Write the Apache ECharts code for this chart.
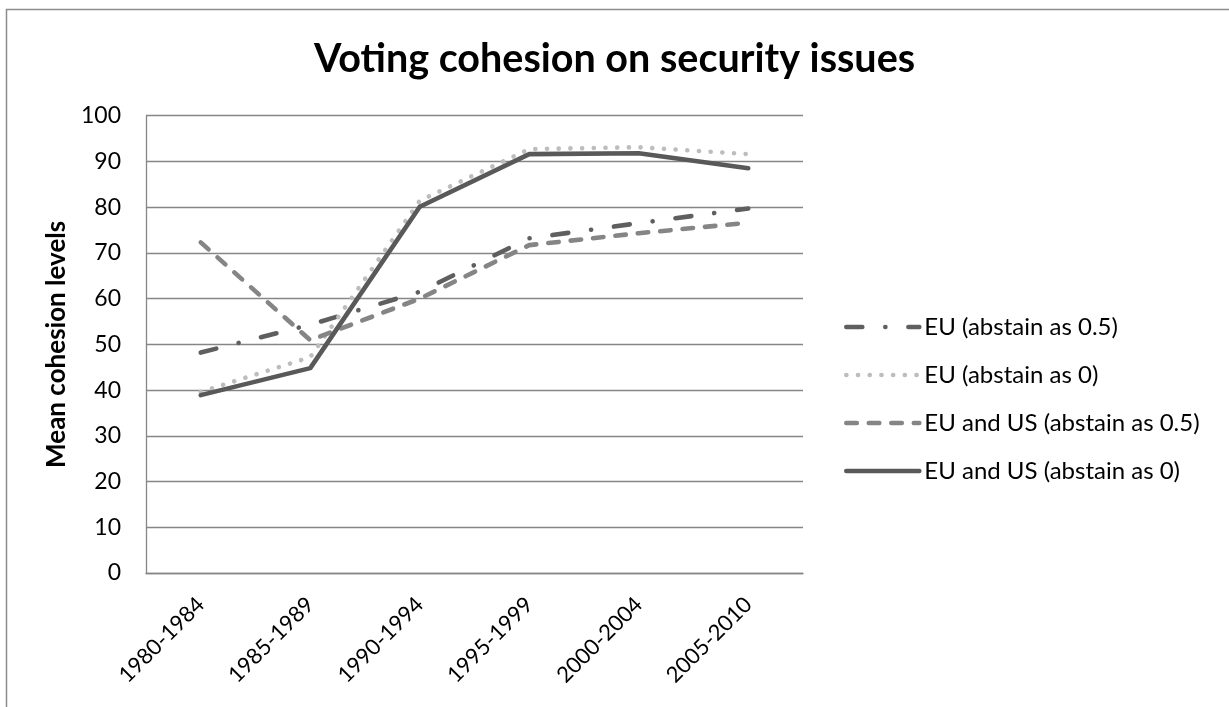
<!DOCTYPE html>
<html>
<head>
<meta charset="utf-8">
<script src="https://cdn.jsdelivr.net/npm/echarts@6/dist/echarts.min.js"></script>
<style>
  html, body { margin: 0; padding: 0; background: #ffffff; }
  #chart { width: 1229px; height: 707px; }
</style>
</head>
<body>
<div id="chart"></div>
<script>
// Five-year periods on the category axis
const periods = ['1980-1984', '1985-1989', '1990-1994', '1995-1999', '2000-2004', '2005-2010'];

// Mean cohesion levels per period
const euHalf = [48.2, 54.3, 61.5, 73.2, 76.5, 79.7];
const euZero = [39.6, 47.2, 81.4, 92.7, 93.1, 91.6];
const euUsHalf = [72.3, 50.9, 60.0, 71.7, 74.3, 76.6];
const euUsZero = [38.9, 44.8, 80.1, 91.6, 91.8, 88.5];

const seriesNames = [
  'EU (abstain as 0.5)',
  'EU (abstain as 0)',
  'EU and US (abstain as 0.5)',
  'EU and US (abstain as 0)'
];

const FONT = 'Lato, "DejaVu Sans", sans-serif';

const chart = echarts.init(document.getElementById('chart'));

function lineSeries(name, data, color, type) {
  return {
    name: name,
    type: 'line',
    data: data,
    symbol: 'none',
    smooth: false,
    lineStyle: { color: color, width: 4.6, type: type, cap: 'round', join: 'round' },
    itemStyle: { color: color },
    emphasis: { disabled: true }
  };
}

chart.setOption({
  backgroundColor: '#ffffff',
  animation: false,
  title: {
    text: 'Voting cohesion on security issues',
    left: 'center',
    top: 34,
    textStyle: { fontFamily: FONT, fontWeight: 'bold', fontSize: 39.5, color: '#000000' }
  },
  graphic: [{
    type: 'rect',
    shape: { x: 6.5, y: 9.5, width: 1260, height: 760 },
    style: { fill: 'none', stroke: '#8c8c8c', lineWidth: 1.5 },
    silent: true
  }],
  legend: {
    orient: 'vertical',
    left: 844,
    top: 315,
    padding: 0,
    itemWidth: 73,
    itemHeight: 24,
    itemGap: 24,
    data: seriesNames,
    // legend keys show only the line pattern, no point marker
    itemStyle: { color: 'rgba(0,0,0,0)', borderWidth: 0, opacity: 0 },
    lineStyle: { width: 4.6, cap: 'round' },
    textStyle: { fontFamily: FONT, fontSize: 24, color: '#000000' }
  },
  grid: { left: 146, right: 426, top: 115.7, bottom: 134, containLabel: false },
  xAxis: {
    type: 'category',
    data: periods,
    boundaryGap: true,
    axisLine: { show: true, lineStyle: { color: '#868686', width: 1.3 } },
    axisTick: { show: false },
    axisLabel: {
      rotate: 45,
      margin: 28,
      fontFamily: FONT,
      fontSize: 22,
      color: '#000000',
      interval: 0
    },
    splitLine: { show: false }
  },
  yAxis: {
    type: 'value',
    min: 0,
    max: 100,
    interval: 10,
    name: 'Mean cohesion levels',
    nameLocation: 'middle',
    nameGap: 76,
    nameTextStyle: { fontFamily: FONT, fontWeight: 'bold', fontSize: 26, color: '#000000' },
    axisLine: { show: true, lineStyle: { color: '#868686', width: 1.3 } },
    axisTick: { show: false },
    axisLabel: { margin: 25, fontFamily: FONT, fontSize: 23, color: '#000000' },
    splitLine: { show: true, lineStyle: { color: '#868686', width: 1.3 } }
  },
  series: [
    lineSeries(seriesNames[0], euHalf, '#5f5f5f', [16, 23, 0.1, 23]),
    lineSeries(seriesNames[1], euZero, '#bdbdbd', [0.1, 11.6]),
    lineSeries(seriesNames[2], euUsHalf, '#858585', [10.5, 12]),
    lineSeries(seriesNames[3], euUsZero, '#595959', 'solid')
  ]
});
</script>
</body>
</html>
